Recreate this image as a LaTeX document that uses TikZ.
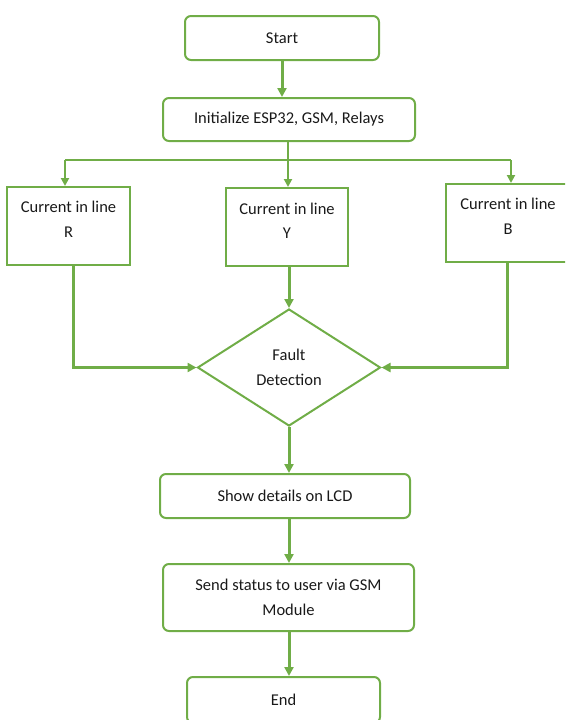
\documentclass[tikz,border=0pt]{standalone}
\usepackage{fontspec}
\setmainfont{Carlito}
\usetikzlibrary{shapes.geometric,arrows.meta,calc}
\definecolor{fgreen}{HTML}{70AD47}
\begin{document}
\begin{tikzpicture}[x=1pt,y=-1pt,
  every node/.style={font=\fontsize{16.5}{24.5}\selectfont, text=black!90, align=center},
  rbox/.style={draw=fgreen, line width=2pt, rounded corners=6pt, inner sep=0pt},
  sbox/.style={draw=fgreen, line width=2pt, inner sep=0pt, minimum width=123pt, minimum height=78pt},
  dbox/.style={draw=fgreen, line width=2pt, diamond, inner sep=0pt, minimum width=183pt, minimum height=117pt},
  flow/.style={draw=fgreen, line width=3pt, -{Triangle[length=9pt,width=9pt]}},
  branch/.style={draw=fgreen, line width=2pt},
  barrow/.style={branch, -{Triangle[length=8pt,width=8pt]}},
  lbl/.style={inner sep=0pt}
]
\useasboundingbox (0,0) rectangle (565,720);
\clip (0,0) rectangle (565,720);

\node[rbox, minimum width=194pt, minimum height=44pt] (start) at (282,38) {Start};
\node[rbox, minimum width=252pt, minimum height=43pt] (init) at (289,119.5) {Initialize ESP32, GSM, Relays};

\node[sbox] (R) at (68.5,226) {};
\node[sbox, minimum width=122pt] (Y) at (287,227) {};
\node[sbox, minimum width=124pt] (B) at (508,223) {};
\node[lbl] (Rt) at (68.5,219.5) {Current in line\\R};
\node[lbl] (Yt) at (287,221) {Current in line\\Y};
\node[lbl] (Bt) at (508,216.5) {Current in line\\B};

\node[dbox] (dia) at (289,367.5) {Fault\\Detection};

\node[rbox, minimum width=250pt, minimum height=44pt] (show) at (285,496) {Show details on LCD};
\node[rbox, minimum width=251pt, minimum height=67pt] (send) at (288.5,597.5) {Send status to user via GSM\\Module};
\node[rbox, minimum width=193pt, minimum height=46pt] (end) at (283.5,700) {End};

% connectors
\draw[flow] (start.south) -- (start.south |- init.north);

\coordinate (j) at (288,160);
\coordinate (jl) at (65,160);
\coordinate (jr) at (511,160);
\draw[branch] (j |- init.south) -- (j);
\draw[branch] (jl) -- (jr);
\draw[barrow] (jl) -- (jl |- R.north);
\draw[barrow] (j) -- (j |- Y.north);
\draw[barrow] (jr) -- (jr |- B.north);

\draw[flow] ($(R.south)+(4.5,0)$) |- (dia.west);
\draw[flow] (Y.south -| dia.north) -- (dia.north);
\draw[flow] ($(B.south)+(-1,0)$) |- (dia.east);

\draw[flow] (dia.south) -- (dia.south |- show.north);
\draw[flow] (dia.south |- show.south) -- (dia.south |- send.north);
\draw[flow] (dia.south |- send.south) -- (dia.south |- end.north);
\end{tikzpicture}
\end{document}
